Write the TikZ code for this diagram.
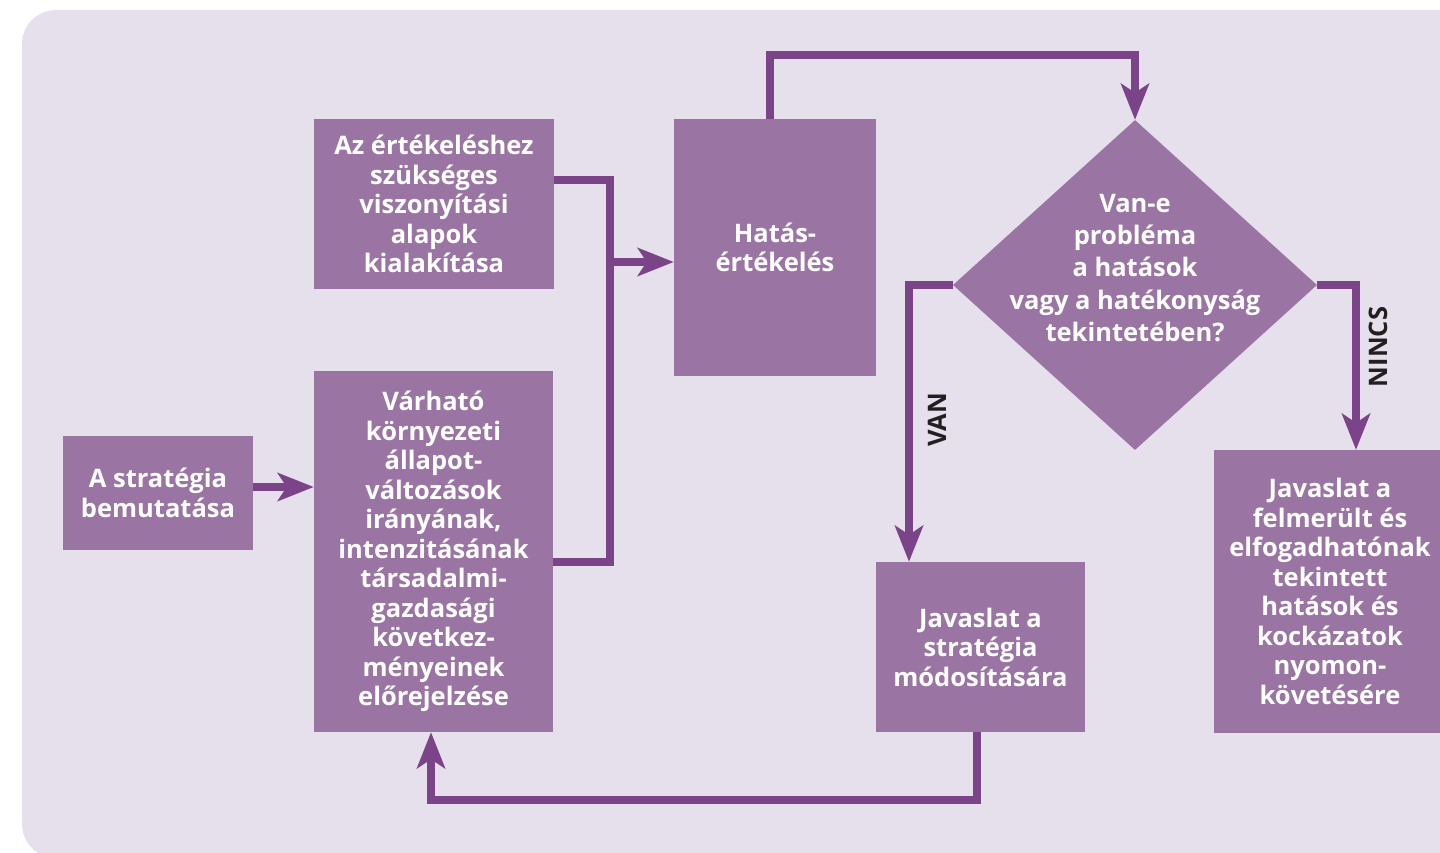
\documentclass[tikz,border=0pt]{standalone}
\usepackage{fontspec}
\setmainfont{Open Sans}
\usetikzlibrary{arrows.meta,shapes.geometric}
\definecolor{bgpurple}{HTML}{E6DFEC}
\definecolor{boxpurple}{HTML}{9A74A3}
\definecolor{linepurple}{HTML}{7B4488}
\definecolor{labelblack}{HTML}{231F20}

\begin{document}
\begin{tikzpicture}[x=1pt, y=-1pt,
  box/.style={fill=boxpurple, text=white, align=center, inner sep=0pt,
    font=\fontsize{25.5}{29.5}\selectfont\bfseries},
  question/.style={text=white, align=center, inner sep=0pt,
    font=\fontsize{25.5}{32.3}\selectfont\bfseries},
  decision/.style={diamond, fill=boxpurple, inner sep=0pt,
    minimum width=364pt, minimum height=330pt},
  link/.style={draw=linepurple, line width=7.5pt, line join=miter},
  arr/.style={link, -{Stealth[length=36pt, width=28pt, inset=9pt]}},
  tag/.style={text=labelblack, rotate=90, inner sep=0pt,
    font=\fontsize{25.5}{30}\selectfont\bfseries}]
\useasboundingbox (0,0) rectangle (1440,852);
\fill[bgpurple, rounded corners=34pt] (22,10) rectangle (1490,858);

\node[box, minimum width=190pt, minimum height=114pt] (S) at (158,493) {A stratégia\\bemutatása};
\node[box, minimum width=240pt, minimum height=170pt] (E) at (434,204) {Az értékeléshez\\szükséges\\viszonyítási\\alapok\\kialakítása};
\node[box, minimum width=239pt, minimum height=361pt] (V) at (433.5,551.5) {Várható\\környezeti\\állapot-\\változások\\irányának,\\intenzitásának\\társadalmi-\\gazdasági\\következ-\\ményeinek\\előrejelzése};
\node[box, minimum width=202pt, minimum height=257pt] (H) at (775,247.5) {Hatás-\\értékelés};
\node[decision] (D) at (1135,285) {};
\node[question] (Dq) at (1135,268) {Van-e\\probléma\\a hatások\\vagy a hatékonyság\\tekintetében?};
\node[box, minimum width=209pt, minimum height=170pt] (J) at (980.5,647) {Javaslat a\\stratégia\\módosítására};
\node[box, minimum width=232pt, minimum height=283pt] (R) at (1330,591.5) {Javaslat a\\felmerült és\\elfogadhatónak\\tekintett\\hatások és\\kockázatok\\nyomon-\\követésére};

\coordinate (M) at (610,262);
\coordinate (Top) at (1135,55);
\coordinate (Bot) at (431,800);

\draw[arr] ([yshift=6pt]S.east) -- ([yshift=6pt]S.east -| V.west);
\draw[link] ([yshift=24pt]E.east) -| (M) |- ([yshift=-10.5pt]V.east);
\draw[arr] (M) -- (M -| H.west);
\draw[arr] ([xshift=-5pt]H.north) |- (Top) -- (D.north);
\draw[arr] (D.west) -| ([xshift=-71.5pt]J.north);
\draw[arr] (D.east) -| ([xshift=26pt]R.north);
\draw[arr] ([xshift=-3.5pt]J.south) |- (Bot) -- ([xshift=-2.5pt]V.south);

\node[tag] (Lv) at (937,420) {VAN};
\node[tag] (Ln) at (1378,347) {NINCS};
\end{tikzpicture}
\end{document}
